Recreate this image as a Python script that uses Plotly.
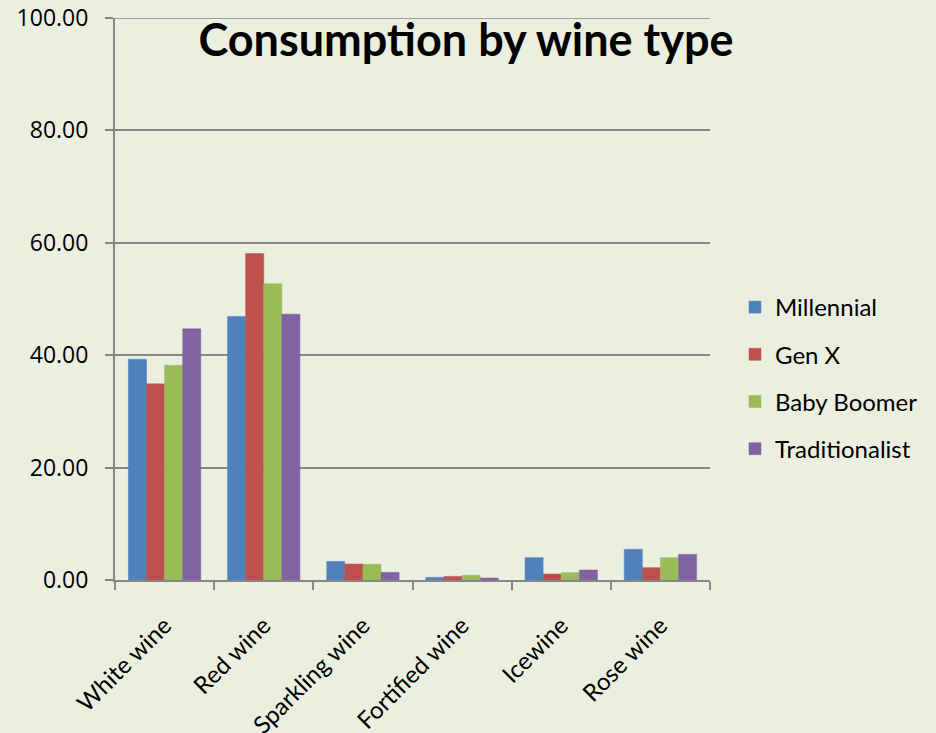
import plotly.graph_objects as go

# Wine consumption share (%) by generation
wine_types = ["White wine", "Red wine", "Sparkling wine", "Fortified wine", "Icewine", "Rose wine"]
millennial = [39.3, 46.9, 3.3, 0.47, 3.97, 5.46]
gen_x = [34.9, 58.1, 2.85, 0.65, 1.07, 2.2]
baby_boomer = [38.2, 52.7, 2.8, 0.83, 1.3, 3.97]
traditionalist = [44.7, 47.3, 1.36, 0.36, 1.78, 4.57]

series = [
    ("Millennial", millennial, "#4F81BD"),
    ("Gen X", gen_x, "#C0504D"),
    ("Baby Boomer", baby_boomer, "#9BBB59"),
    ("Traditionalist", traditionalist, "#8064A2"),
]

BG = "#EBEFDF"
AXIS = "#868686"
FONT = "Lato"
NUM_FONT = "Open Sans"

fig = go.Figure()
for name, vals, color in series:
    fig.add_trace(go.Bar(
        x=wine_types, y=vals, name=name, legendgroup=name,
        marker=dict(color=color, line=dict(color=color, width=0.5)),
    ))

fig.update_layout(
    width=936, height=733,
    paper_bgcolor=BG, plot_bgcolor=BG,
    margin=dict(l=115, r=226, t=18, b=153, autoexpand=False),
    barmode="group", bargap=0.27, bargroupgap=0,
    font=dict(family=FONT, size=24, color="#000000"),
    title=dict(
        text="<b>Consumption by wine type</b>",
        font=dict(family=FONT, size=45, color="#000000"),
        x=466 / 936, xanchor="center", xref="container",
        y=1 - 40 / 733, yanchor="middle", yref="container",
    ),
    legend=dict(
        x=1.042, xref="paper", xanchor="left",
        y=(580 - 378) / 562, yanchor="middle",
        font=dict(size=24),
        tracegroupgap=13,
        bgcolor="rgba(0,0,0,0)",
    ),
    showlegend=True,
)

fig.update_xaxes(
    type="category", tickangle=-45, tickson="boundaries",
    ticks="outside", ticklen=8, tickcolor=AXIS, tickwidth=2,
    showline=True, linecolor=AXIS, linewidth=2,
    showgrid=False, tickfont=dict(size=24),
    ticklabelstandoff=20, automargin=False,
)
fig.update_yaxes(
    range=[0, 100], dtick=20, tickformat=".2f",
    ticks="outside", ticklen=8, tickcolor=AXIS, tickwidth=2,
    showline=True, linecolor=AXIS, linewidth=2,
    showgrid=True, gridcolor=AXIS, gridwidth=1.5,
    zeroline=False, tickfont=dict(family=NUM_FONT, size=23),
    ticklabelstandoff=12, automargin=False,
)

# top gridline at the 100 mark
fig.add_shape(type="line", xref="paper", yref="y", x0=0, x1=1, y0=100, y1=100,
              line=dict(color=AXIS, width=1.5), layer="below")

fig.write_html("out.html")
